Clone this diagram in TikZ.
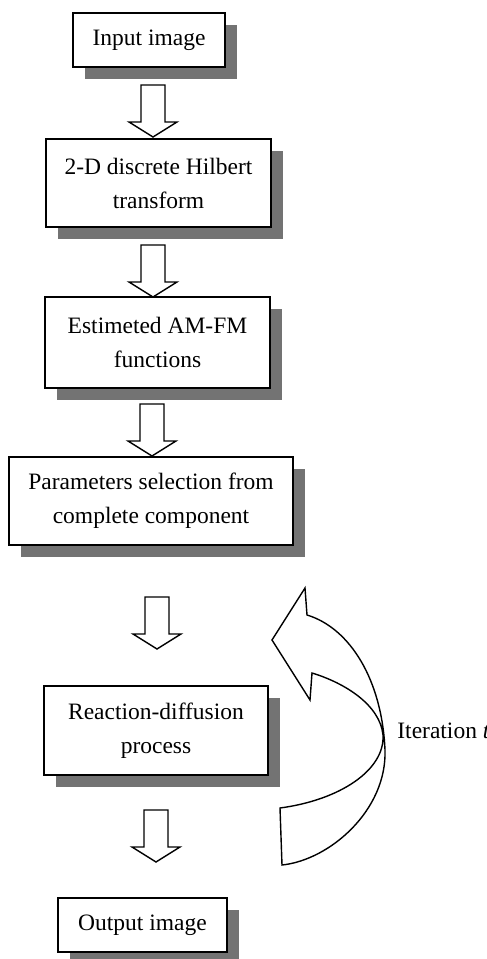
\documentclass[tikz,border=0pt]{standalone}
\usepackage{fontspec}
\setmainfont{Liberation Serif}
\usetikzlibrary{shadows}
\begin{document}
\begin{tikzpicture}[x=0.5pt,y=-0.5pt,
  box/.style={draw=black, line width=1pt, fill=white, align=center, inner sep=0pt,
    font=\fontsize{11.75pt}{17pt}\selectfont,
    drop shadow={shadow xshift=6pt, shadow yshift=-6pt, fill=black!55, opacity=1}},
  lbl/.style={font=\fontsize{11.75pt}{17pt}\selectfont, inner sep=0pt},
  outl/.style={draw=black, line width=0.7pt, line join=miter},
  barrow/.pic={\draw[outl, fill=white] (-12,0) -- (-12,37) -- (-24,37) -- (0,52) -- (24,37) -- (12,37) -- (12,0) -- cycle;}]
\useasboundingbox (0,0) rectangle (487,959);
% boxes
\node[box, minimum width=76pt, minimum height=27pt] (b1) at (149,40) {Input image};
\node[box, minimum width=112.5pt, minimum height=44pt] (b2) at (158.5,183) {2-D discrete Hilbert\\transform};
\node[box, minimum width=112.5pt, minimum height=45.5pt] (b3) at (157.5,342.5) {Estimeted AM-FM\\functions};
\node[box, minimum width=142pt, minimum height=44pt] (b4) at (151,501) {Parameters selection from\\complete component};
\node[box, minimum width=112pt, minimum height=44.5pt] (b5) at (156,730.5) {Reaction-diffusion\\process};
\node[box, minimum width=84.5pt, minimum height=27pt] (b6) at (142.5,925) {Output image};
% block arrows
\coordinate (a1) at (153,85);
\coordinate (a2) at (153,245);
\coordinate (a3) at (152,404);
\coordinate (a4) at (157,597);
\coordinate (a5) at (156,810);
\pic at (a1) {barrow};
\pic at (a2) {barrow};
\pic at (a3) {barrow};
\pic at (a4) {barrow};
\pic at (a5) {barrow};
% curved iteration arrow
\draw[outl] (272,640) -- (305,588) -- (307,615)
  .. controls (350,628) and (382,680) .. (385,750)
  .. controls (387,810) and (330,860) .. (282,865)
  -- (280,808)
  .. controls (340,800) and (385,770) .. (383,735)
  .. controls (380,705) and (345,683) .. (312,673)
  -- (310,700) -- cycle;
\node[lbl, anchor=base west] (iter) at (397,738) {Iteration \textit{t}};
\end{tikzpicture}
\end{document}
